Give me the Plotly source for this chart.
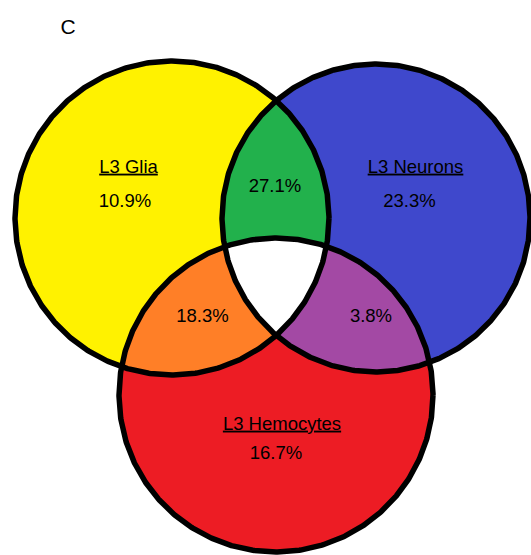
import numpy as np
import plotly.graph_objects as go

# ---------------- data ----------------
panel_label = "C"
set_names = ["L3 Glia", "L3 Neurons", "L3 Hemocytes"]
unique_pct = [10.9, 23.3, 16.7]
pair_pct = [27.1, 18.3, 3.8]          # Glia∩Neurons, Glia∩Hemocytes, Neurons∩Hemocytes

# ---------------- layout / style (pixel space) ----------------
W, H = 531, 555
CIRCLES = [(172, 218, 157), (376, 218, 154), (276, 395, 157)]  # cx, cy, r
PAIRS = [(0, 1), (0, 2), (1, 2)]
SET_COLORS = ["#FFF200", "#3F48CC", "#ED1C24"]
PAIR_COLORS = ["#22B14C", "#FF7F27", "#A349A4"]
CENTER_COLOR = "#FFFFFF"
NAME_POS = [(128.5, 168), (415.5, 168), (282, 425)]
UNIQUE_POS = [(125, 202), (409.5, 202), (276, 454.5)]
PAIR_POS = [(275, 187), (202.5, 317), (371, 317)]
PANEL_POS = (68, 29)
FONT = "Liberation Sans, Arial, sans-serif"
OUTLINE_W = 5.5
N = 720


def circle_poly(c):
    cx, cy, r = c
    t = np.linspace(0, 2 * np.pi, N, endpoint=False)
    return list(zip(cx + r * np.cos(t), cy + r * np.sin(t)))


def clip(subject, clipper):
    """Sutherland-Hodgman clip of subject polygon by convex (CCW) clipper."""
    def inside(p, a, b):
        return (b[0] - a[0]) * (p[1] - a[1]) - (b[1] - a[1]) * (p[0] - a[0]) >= 0

    def inter(p1, p2, a, b):
        x1, y1 = p1; x2, y2 = p2; x3, y3 = a; x4, y4 = b
        den = (x1 - x2) * (y3 - y4) - (y1 - y2) * (x3 - x4)
        if den == 0:
            return p2
        t = ((x1 - x3) * (y3 - y4) - (y1 - y3) * (x3 - x4)) / den
        return (x1 + t * (x2 - x1), y1 + t * (y2 - y1))

    out = subject
    for i in range(len(clipper)):
        a, b = clipper[i], clipper[(i + 1) % len(clipper)]
        inp = out
        out = []
        if not inp:
            break
        s = inp[-1]
        for e in inp:
            if inside(e, a, b):
                if not inside(s, a, b):
                    out.append(inter(s, e, a, b))
                out.append(e)
            elif inside(s, a, b):
                out.append(inter(s, e, a, b))
            s = e
    return out


def fill_trace(poly, color):
    xs = [p[0] for p in poly] + [poly[0][0]]
    ys = [p[1] for p in poly] + [poly[0][1]]
    return go.Scatter(x=xs, y=ys, mode="lines", fill="toself", fillcolor=color,
                      line=dict(width=0, color=color), hoverinfo="skip", showlegend=False)


polys = [circle_poly(c) for c in CIRCLES]
fig = go.Figure()

for poly, col in zip(polys, SET_COLORS):
    fig.add_trace(fill_trace(poly, col))
for (i, j), col in zip(PAIRS, PAIR_COLORS):
    fig.add_trace(fill_trace(clip(polys[i], polys[j]), col))
triple = clip(clip(polys[0], polys[1]), polys[2])
fig.add_trace(fill_trace(triple, CENTER_COLOR))

for poly in polys:
    xs = [p[0] for p in poly] + [poly[0][0]]
    ys = [p[1] for p in poly] + [poly[0][1]]
    fig.add_trace(go.Scatter(x=xs, y=ys, mode="lines", line=dict(color="black", width=OUTLINE_W),
                             hoverinfo="skip", showlegend=False))

# text labels
tx, ty, tt = [], [], []
for name, p in zip(set_names, NAME_POS):
    tx.append(p[0]); ty.append(p[1]); tt.append(f"<u>{name}</u>")
for v, p in zip(unique_pct, UNIQUE_POS):
    tx.append(p[0]); ty.append(p[1]); tt.append(f"{v:.1f}%")
for v, p in zip(pair_pct, PAIR_POS):
    tx.append(p[0]); ty.append(p[1]); tt.append(f"{v:.1f}%")
tx.append(PANEL_POS[0]); ty.append(PANEL_POS[1]); tt.append(panel_label)

sizes = [18.5] * (len(tt) - 1) + [21]
fig.add_trace(go.Scatter(x=tx, y=ty, text=tt, mode="text", textposition="middle center",
                         textfont=dict(family=FONT, size=sizes, color="black"),
                         hoverinfo="skip", showlegend=False))

fig.update_layout(
    width=W, height=H, margin=dict(l=0, r=0, t=0, b=0),
    paper_bgcolor="white", plot_bgcolor="white",
    xaxis=dict(range=[0, W], visible=False, fixedrange=True),
    yaxis=dict(range=[H, 0], visible=False, fixedrange=True),
)
fig.write_html("out.html", config={"displayModeBar": False},
               post_script="document.body.style.margin='0';document.body.style.padding='0';")
